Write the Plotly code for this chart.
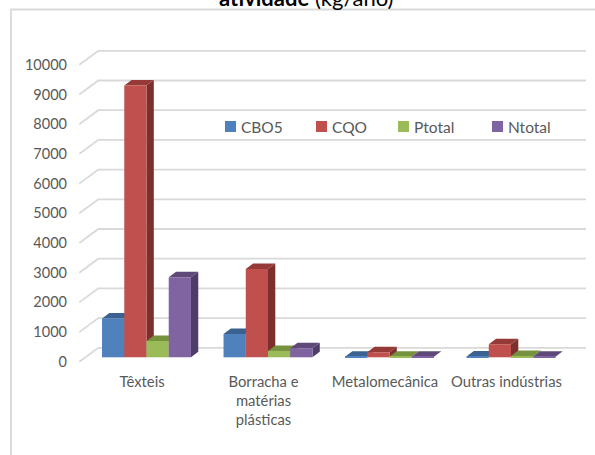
import plotly.graph_objects as go

categories = ["Têxteis", "Borracha e<br>matérias<br>plásticas", "Metalomecânica", "Outras indústrias"]
series_names = ["CBO5", "CQO", "Ptotal", "Ntotal"]
cbo5 = [1310, 785, 20, 30]
cqo = [9150, 2975, 170, 440]
ptotal = [550, 215, 15, 40]
ntotal = [2695, 305, 15, 20]
tick_values = [0, 1000, 2000, 3000, 4000, 5000, 6000, 7000, 8000, 9000, 10000]

series_values = [cbo5, cqo, ptotal, ntotal]
front_colors = ["#4f81bd", "#c0504d", "#9bbb59", "#8064a2"]
top_colors = ["#3a6190", "#953a37", "#76923c", "#5f497a"]
side_colors = ["#2f4d71", "#7c2f2d", "#5f7530", "#4f3c69"]

W, H = 595, 455
TEXT = "#595959"
GRID = "#d9d9d9"
FONT = "Lato"

# pixel calibration of the scales
PX_PER_UNIT = 0.0297
STEP = 121.5
BAR_X0 = 146.5      # centre of first group front face
BAR_Y0 = 357.3      # baseline of bar fronts
LABEL_X0 = 142.0    # centre of first category label
TICK_Y0 = 361.8     # front plane value 0
DX, DY = 7.3, 5.5   # bar depth
GRID_DX, GRID_DY = 19.0, 14.0
GRID_RIGHT = 586.0


def xr(x0):
    return [(0 - x0) / STEP, (W - x0) / STEP]


def yr(y0):
    return [(y0 - H) / PX_PER_UNIT, y0 / PX_PER_UNIT]


fig = go.Figure()

# wall and floor gridlines, in the tick axis scale
gx, gy = [], []
gx0 = (79.3 - LABEL_X0) / STEP
gx1 = gx0 + GRID_DX / STEP
gx2 = (GRID_RIGHT - LABEL_X0) / STEP
for v in tick_values:
    gx += [gx0, gx1, gx2, None]
    up = v + GRID_DY / PX_PER_UNIT
    gy += [v, up, up, None]
fig.add_trace(go.Scatter(x=gx, y=gy, mode="lines", xaxis="x", yaxis="y", showlegend=False,
                         hoverinfo="skip", line=dict(color=GRID, width=1.8)))

# depth faces
GROUP = 0.732
BW = GROUP / 4
ddx, ddy = DX / STEP, DY / PX_PER_UNIT
for s, vals in enumerate(series_values):
    sx, sy, tx, ty = [], [], [], []
    for c, v in enumerate(vals):
        left = c - GROUP / 2 + s * BW
        right = left + BW
        sx += [right, right + ddx, right + ddx, right, right, None]
        sy += [0, ddy, v + ddy, v, 0, None]
        tx += [left, left + ddx, right + ddx, right, left, None]
        ty += [v, v + ddy, v + ddy, v, v, None]
    fig.add_trace(go.Scatter(x=sx, y=sy, mode="lines", fill="toself", fillcolor=side_colors[s],
                             line=dict(width=0), xaxis="x2", yaxis="y2", showlegend=False, hoverinfo="skip"))
    fig.add_trace(go.Scatter(x=tx, y=ty, mode="lines", fill="toself", fillcolor=top_colors[s],
                             line=dict(width=0), xaxis="x2", yaxis="y2", showlegend=False, hoverinfo="skip"))

# fronts
for s, vals in enumerate(series_values):
    fig.add_trace(go.Bar(x=list(range(4)), y=vals, name=series_names[s], marker=dict(color=front_colors[s], line=dict(width=0)),
                         xaxis="x3", yaxis="y3", showlegend=False))

hidden = dict(visible=False, showgrid=False, zeroline=False, fixedrange=True)
fig.update_layout(
    width=W, height=H, margin=dict(l=0, r=0, t=0, b=0), paper_bgcolor="white", plot_bgcolor="white",
    barmode="group", bargap=1 - GROUP, bargroupgap=0, showlegend=False,
    font=dict(family=FONT, color=TEXT, size=14),
    xaxis=dict(range=xr(LABEL_X0), domain=[0, 1], anchor="free", position=1 - 371 / H, tickmode="array",
               tickvals=list(range(4)), ticktext=categories, showgrid=False, zeroline=False, showline=False,
               ticks="", tickangle=0, tickfont=dict(size=14.8, color=TEXT, family=FONT)),
    yaxis=dict(range=yr(TICK_Y0), domain=[0, 1], anchor="free", position=67 / W, tickmode="array",
               tickvals=tick_values, ticktext=[str(t) for t in tick_values], showgrid=False, zeroline=False,
               showline=False, ticks="", tickfont=dict(size=14.5, color=TEXT, family=FONT)),
    xaxis2=dict(range=xr(BAR_X0), overlaying="x", anchor="y2", **hidden),
    yaxis2=dict(range=yr(BAR_Y0), overlaying="y", anchor="x2", **hidden),
    xaxis3=dict(range=xr(BAR_X0), overlaying="x", anchor="y3", **hidden),
    yaxis3=dict(range=yr(BAR_Y0), overlaying="y", anchor="x3", **hidden),
    shapes=[dict(type="path", xref="paper", yref="paper",
                 path=f"M {11/W} 0 L {11/W} {1 - 9.5/H} L 1 {1 - 9.5/H}", line=dict(color=GRID, width=1.8), layer="below")],
)

# title, cropped by the top edge as in the source
fig.add_annotation(text="<b>atividade</b> (kg/ano)", xref="paper", yref="paper", x=306 / W, y=1 + 2.5 / H,
                   xanchor="center", yanchor="middle", showarrow=False, font=dict(size=22, color="#000000", family=FONT))

# legend
legend_square_x = [225, 316, 398, 492]
for name, color, lx in zip(series_names, front_colors, legend_square_x):
    fig.add_shape(type="rect", xref="paper", yref="paper", x0=lx / W, x1=(lx + 11) / W,
                  y0=1 - 132 / H, y1=1 - 121 / H, fillcolor=color, line=dict(width=0))
    fig.add_annotation(text=name, xref="paper", yref="paper", x=(lx + 14) / W, y=1 - 127 / H, xanchor="left",
                       yanchor="middle", showarrow=False, font=dict(size=15.5, color=TEXT, family=FONT))

fig.write_html("out.html", config={"displayModeBar": False},
               post_script="document.body.style.margin='0';document.documentElement.style.overflow='hidden';")
